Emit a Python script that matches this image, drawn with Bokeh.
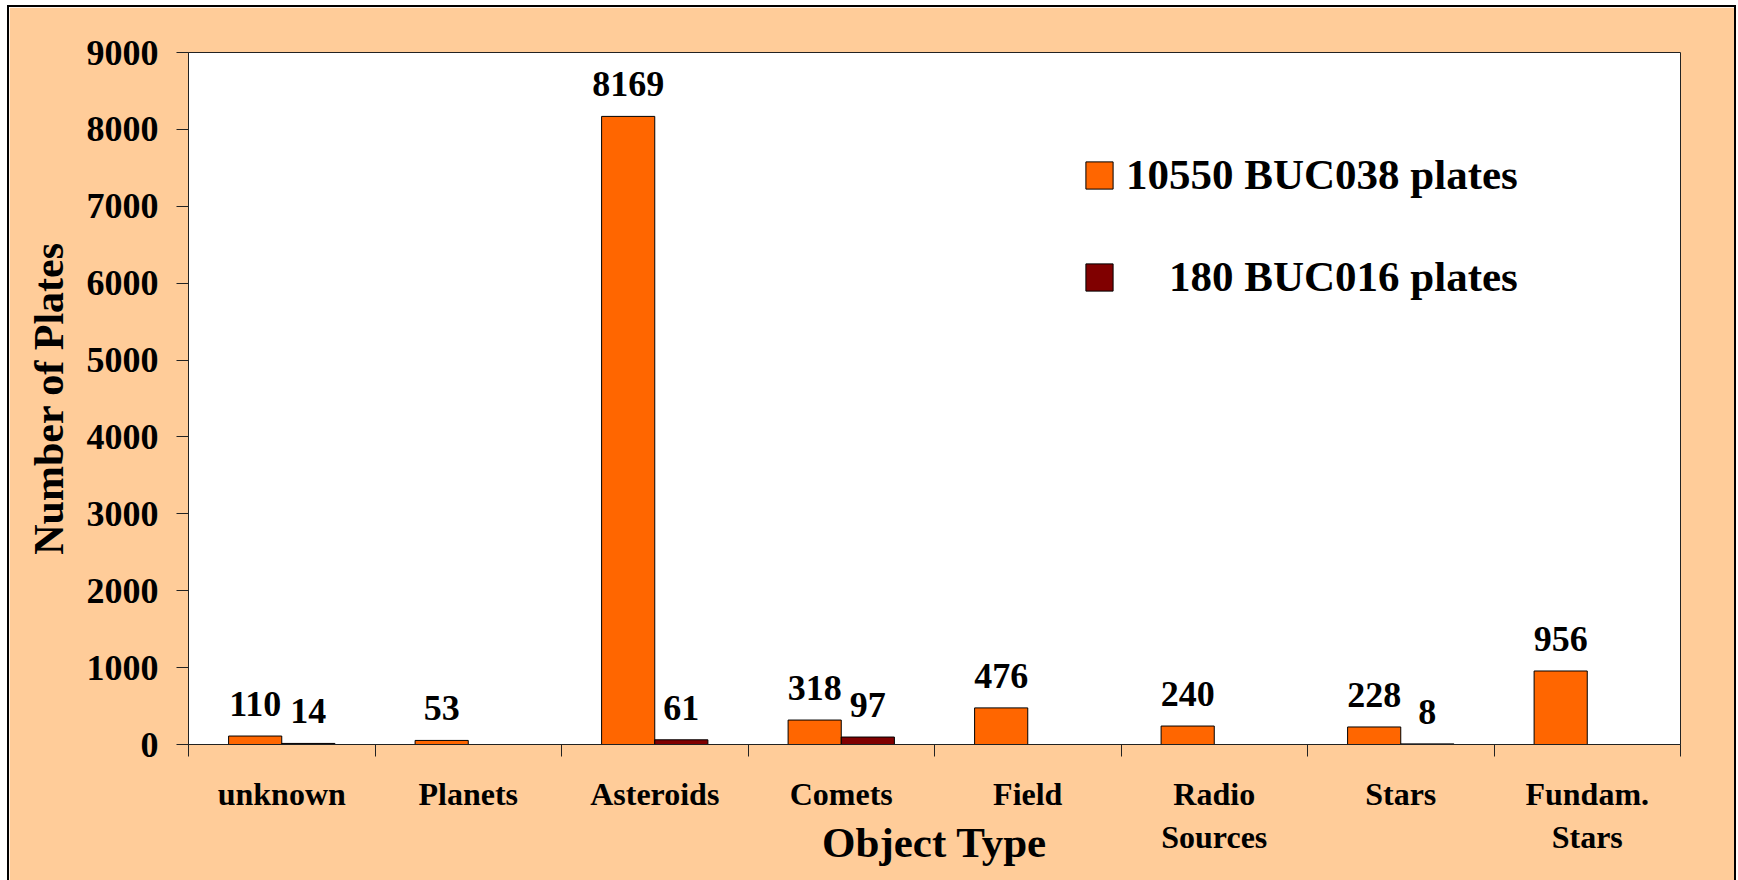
from bokeh.plotting import figure
from bokeh.models import (Range1d, FixedTicker, Legend, LegendItem, ColumnDataSource,
                          LabelSet)
from bokeh.embed import file_html
from bokeh.resources import INLINE

categories = ["unknown", "Planets", "Asteroids", "Comets", "Field",
              "Radio\nSources", "Stars", "Fundam.\nStars"]
buc038 = [110, 53, 8169, 318, 476, 240, 228, 956]
buc016 = [14, None, 61, 97, None, None, 8, None]
series_names = ["10550 BUC038 plates", "\u00a0\u00a0\u00a0\u00a0180 BUC016 plates"]
y_ticks = [0, 1000, 2000, 3000, 4000, 5000, 6000, 7000, 8000, 9000]
x_title = "Object Type"
y_title = "Number of Plates"

FONT = "Liberation Serif"
ORANGE = "#FF6600"
DARK = "#800000"
PEACH = "#FFCC99"
AXIS = "#222222"
BAR_W = 0.285

centers = [i + 0.5 for i in range(len(categories))]

src1 = ColumnDataSource(dict(
    x=[c - BAR_W / 2 for c in centers],
    top=buc038,
    label=[str(v) for v in buc038],
))
d_idx = [i for i, v in enumerate(buc016) if v is not None]
src2 = ColumnDataSource(dict(
    x=[centers[i] + BAR_W / 2 for i in d_idx],
    top=[buc016[i] for i in d_idx],
    label=[str(buc016[i]) for i in d_idx],
))

p = figure(width=1725, height=873,
           x_range=Range1d(0, len(categories)), y_range=Range1d(0, y_ticks[-1]),
           output_backend="svg", toolbar_location=None,
           min_border_left=179, min_border_right=58,
           min_border_top=45, min_border_bottom=138)
p.margin = (5, 0, 0, 7)
p.styles = {"border": "2px solid black", "border-bottom": "none",
            "box-sizing": "content-box"}
p.border_fill_color = PEACH
p.background_fill_color = "white"
p.outline_line_color = AXIS
p.outline_line_width = 1
p.grid.visible = False

r1 = p.vbar(x="x", top="top", bottom=0, width=BAR_W, source=src1,
            fill_color=ORANGE, line_color="black", line_width=1)
r2 = p.vbar(x="x", top="top", bottom=0, width=BAR_W, source=src2,
            fill_color=DARK, line_color="black", line_width=1)

for src in (src1, src2):
    p.add_layout(LabelSet(x="x", y="top", text="label", source=src, y_offset=20,
                          text_align="center", text_baseline="alphabetic",
                          text_font=FONT, text_font_size="36px",
                          text_font_style="bold", text_color="black"))

# x axis
xa = p.xaxis[0]
xa.ticker = FixedTicker(ticks=centers, minor_ticks=list(range(len(categories) + 1)))
xa.major_label_overrides = {c: name for c, name in zip(centers, categories)}
xa.major_tick_out = 0
xa.major_tick_in = 0
xa.minor_tick_out = 12
xa.minor_tick_in = 0
xa.major_label_standoff = 19
xa.major_label_text_font = FONT
xa.major_label_text_font_size = "32px"
xa.major_label_text_font_style = "bold"
xa.major_label_text_color = "black"
xa.major_label_text_line_height = 1.2
xa.axis_label = x_title
xa.axis_label_text_font = FONT
xa.axis_label_text_font_size = "43px"
xa.axis_label_text_font_style = "bold"
xa.axis_label_text_color = "black"
xa.axis_label_standoff = -39
xa.axis_line_color = AXIS
xa.minor_tick_line_color = AXIS

# y axis
ya = p.yaxis[0]
ya.ticker = FixedTicker(ticks=y_ticks, minor_ticks=[])
ya.major_tick_out = 12
ya.major_tick_in = 0
ya.minor_tick_out = 0
ya.minor_tick_in = 0
ya.major_label_standoff = 18
ya.major_label_text_font = FONT
ya.major_label_text_font_size = "36px"
ya.major_label_text_font_style = "bold"
ya.major_label_text_color = "black"
ya.axis_label = y_title
ya.axis_label_text_font = FONT
ya.axis_label_text_font_size = "42px"
ya.axis_label_text_font_style = "bold"
ya.axis_label_text_color = "black"
ya.axis_label_standoff = 12
ya.axis_line_color = AXIS
ya.major_tick_line_color = AXIS

legend = Legend(items=[LegendItem(label=series_names[0], renderers=[r1]),
                       LegendItem(label=series_names[1], renderers=[r2])],
                location=(894, 443), orientation="vertical",
                glyph_width=34, glyph_height=34, label_standoff=10, spacing=53,
                padding=0, margin=0, border_line_color=None,
                background_fill_alpha=0,
                label_text_font=FONT, label_text_font_size="43px",
                label_text_font_style="bold", label_text_color="black")
p.add_layout(legend)

open("out.html", "w").write(file_html(p, INLINE))
